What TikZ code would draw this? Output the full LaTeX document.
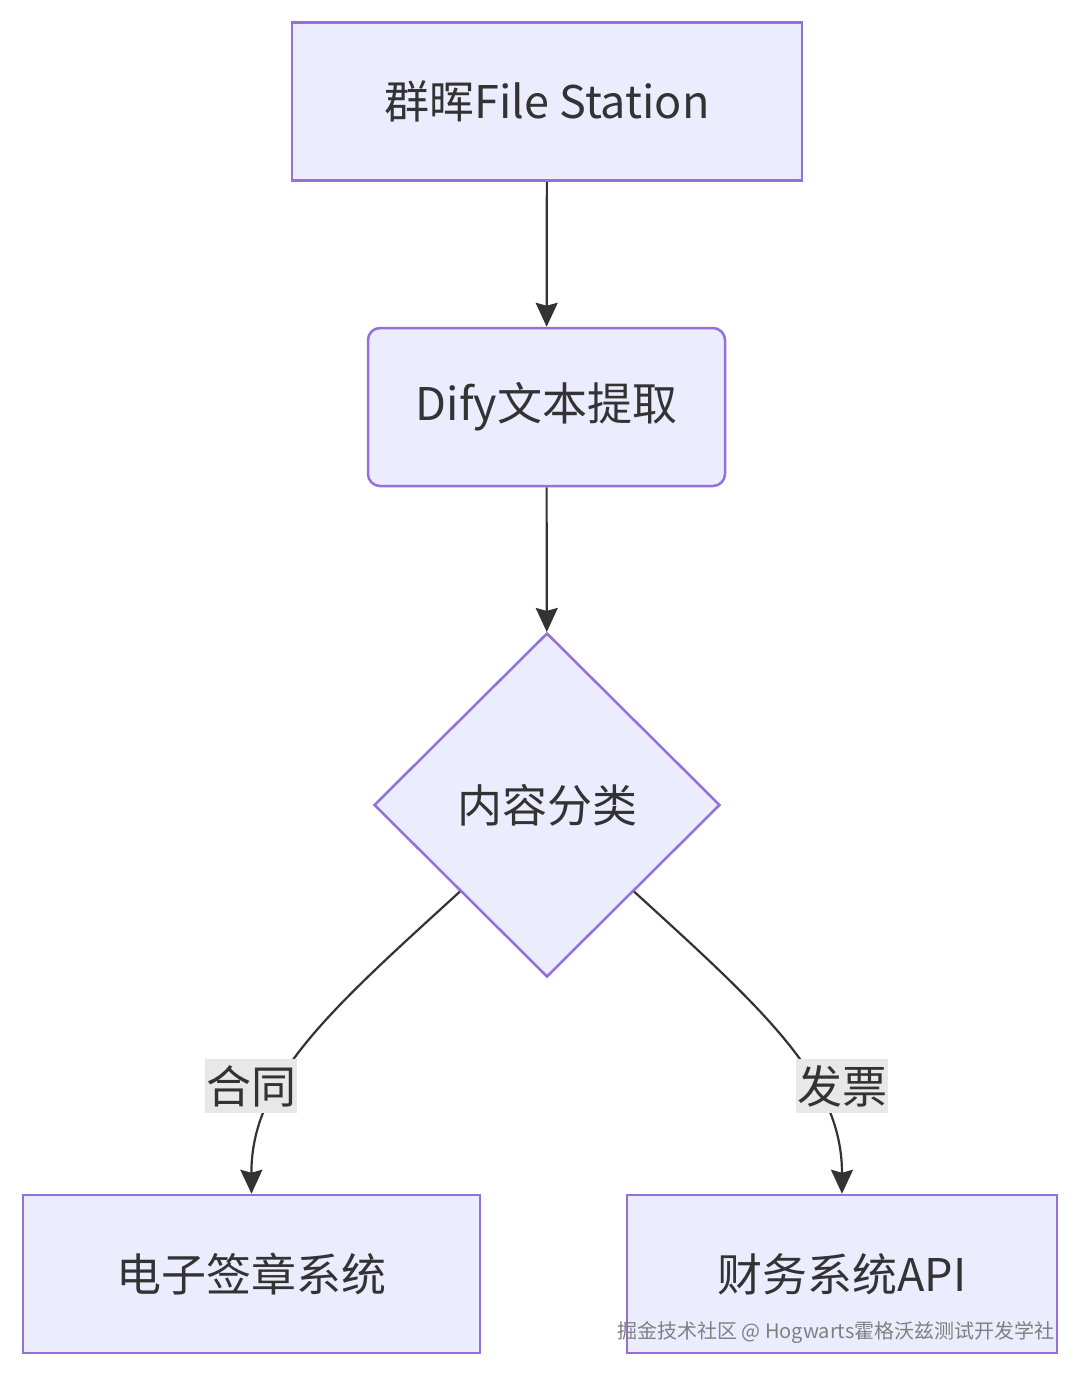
\documentclass[tikz,border=0pt]{standalone}
\usepackage{fontspec}
\setmainfont{Noto Sans CJK SC}
\usetikzlibrary{shapes.geometric,arrows.meta}
\definecolor{nf}{HTML}{ECECFF}
\definecolor{ns}{HTML}{9370DB}
\definecolor{ln}{HTML}{333333}
\definecolor{lb}{HTML}{E8E8E8}
\begin{document}
\begin{tikzpicture}[x=1pt,y=-1pt,
 box/.style={draw=ns,fill=nf,line width=2.5pt,minimum width=#1,minimum height=158pt,font=\fontsize{45}{50}\selectfont,text=ln},
 arr/.style={draw=ln,line width=2.2pt,-{Stealth[length=24pt,width=22pt,inset=3pt]}},
 lab/.style={fill=lb,inner xsep=1pt,inner ysep=6pt,font=\fontsize{45}{50}\selectfont,text=ln}]
\useasboundingbox[fill=white] (0,0) rectangle (1080,1377);
\node[box=510pt] (a) at (547,101.5) {群晖File Station};
\node[box=357pt,rounded corners=12pt] (b) at (546.5,407) {Dify文本提取};
\node[diamond,draw=ns,fill=nf,line width=2.5pt,minimum width=346pt,minimum height=344pt,inner sep=0pt,font=\fontsize{45}{50}\selectfont,text=ln] (c) at (547,805) {内容分类};
\node[box=457pt] (d) at (251.5,1274) {电子签章系统};
\node[box=430pt] (e) at (842,1274) {财务系统API};
\draw[arr] (a) -- (b);
\draw[arr] (b) -- (c);
\draw[arr] (c.south west) .. controls (330,1010) and (251,1080) .. (d.north);
\draw[arr] (c.south east) .. controls (764,1010) and (842,1080) .. (e.north);
\node[lab] (l1) at (251,1086) {合同};
\node[lab] (l2) at (842,1086) {发票};
\node[font=\fontsize{20}{22}\selectfont,text=gray] (w) at (836,1332) {掘金技术社区 @ Hogwarts霍格沃兹测试开发学社};
\end{tikzpicture}
\end{document}
